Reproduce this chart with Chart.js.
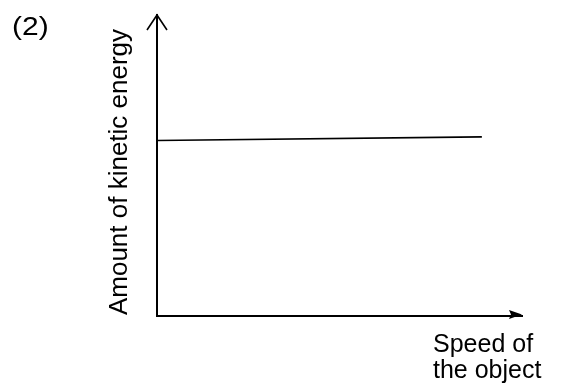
<!DOCTYPE html>
<html>
<head>
<meta charset="utf-8">
<script src="https://cdn.jsdelivr.net/npm/chart.js@4/dist/chart.umd.min.js"></script>
<style>
  html, body { margin: 0; padding: 0; background: #fff; }
  #wrap { width: 563px; height: 389px; }
</style>
</head>
<body>
<div id="wrap"><canvas id="c" width="563" height="389"></canvas></div>
<script>
// Data
const speedValues = [0, 89];
const energyValues = [58.3, 59.5];
const panelLabel = "(2)";
const yAxisTitle = "Amount of kinetic energy";
const xAxisTitleLines = ["Speed of", "the object"];
const xRange = [0, 100];
const yRange = [0, 100];

const points = speedValues.map((x, i) => ({ x: x, y: energyValues[i] }));

const FONT = "'Liberation Sans', Arial, sans-serif";

const decorPlugin = {
  id: 'decor',
  afterDraw(chart) {
    const ctx = chart.ctx;
    const xs = chart.scales.x, ys = chart.scales.y;
    const x0 = xs.getPixelForValue(xRange[0]);
    const x1 = xs.getPixelForValue(xRange[1]);
    const y0 = ys.getPixelForValue(yRange[0]);
    const y1 = ys.getPixelForValue(yRange[1]);
    ctx.save();
    ctx.strokeStyle = '#000';
    ctx.fillStyle = '#000';
    // open arrowhead on y axis
    ctx.lineWidth = 1.6;
    ctx.beginPath();
    ctx.moveTo(x0 - 10, y1 + 15);
    ctx.lineTo(x0, y1);
    ctx.lineTo(x0 + 10, y1 + 15);
    ctx.stroke();
    // filled arrowhead on x axis
    ctx.beginPath();
    ctx.moveTo(x1, y0 - 1.5);
    ctx.lineTo(x1 - 13, y0 - 6);
    ctx.lineTo(x1 - 11, y0 - 1.5);
    ctx.lineTo(x1 - 13, y0 + 3);
    ctx.closePath();
    ctx.fill();
    // panel label
    ctx.font = '25px ' + FONT;
    ctx.textBaseline = 'alphabetic';
    ctx.textAlign = 'left';
    ctx.save();
    ctx.translate(12, 35);
    ctx.scale(1.2, 1);
    ctx.fillText(panelLabel, 0, 0);
    ctx.restore();
    // y axis title
    ctx.save();
    ctx.font = '26px ' + FONT;
    ctx.translate(127, 172);
    ctx.rotate(-Math.PI / 2);
    ctx.textAlign = 'center';
    ctx.fillText(yAxisTitle, 0, 0);
    ctx.restore();
    // x axis title
    ctx.font = '25px ' + FONT;
    ctx.textAlign = 'left';
    ctx.fillText(xAxisTitleLines[0], 433, 352);
    ctx.fillText(xAxisTitleLines[1], 433, 378);
    ctx.restore();
  }
};

new Chart(document.getElementById('c'), {
  type: 'scatter',
  data: {
    datasets: [{
      data: points,
      showLine: true,
      borderColor: '#000',
      borderWidth: 1.6,
      pointRadius: 0,
      fill: false,
      tension: 0
    }]
  },
  options: {
    responsive: false,
    animation: false,
    devicePixelRatio: 1,
    layout: { padding: { left: 157, top: 15, right: 41, bottom: 73 } },
    plugins: { legend: { display: false }, tooltip: { enabled: false }, title: { display: false } },
    scales: {
      x: {
        type: 'linear', min: xRange[0], max: xRange[1],
        grid: { display: false, drawTicks: false },
        ticks: { display: false },
        border: { display: true, color: '#000', width: 2 }
      },
      y: {
        type: 'linear', min: yRange[0], max: yRange[1],
        grid: { display: false, drawTicks: false },
        ticks: { display: false },
        border: { display: true, color: '#000', width: 2 }
      }
    }
  },
  plugins: [decorPlugin]
});
</script>
</body>
</html>
